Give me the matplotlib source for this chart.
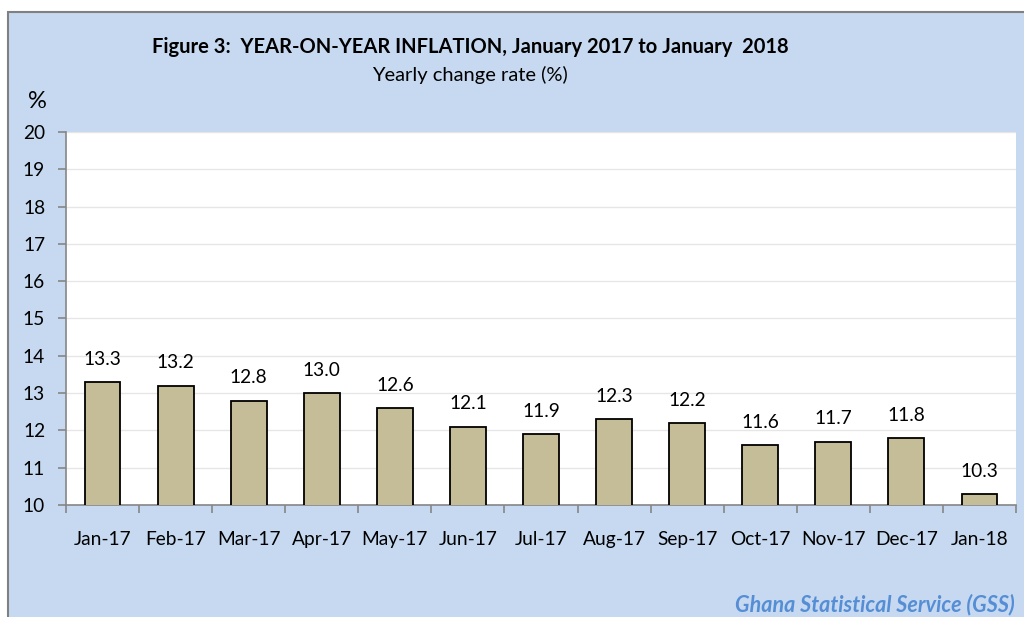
import matplotlib
matplotlib.use("Agg")
import matplotlib.pyplot as plt
from matplotlib.patches import Rectangle

months = ["Jan-17", "Feb-17", "Mar-17", "Apr-17", "May-17", "Jun-17", "Jul-17",
          "Aug-17", "Sep-17", "Oct-17", "Nov-17", "Dec-17", "Jan-18"]
inflation = [13.3, 13.2, 12.8, 13.0, 12.6, 12.1, 11.9, 12.3, 12.2, 11.6, 11.7, 11.8, 10.3]
yticks = list(range(10, 21))

plt.rcParams['font.family'] = ['Lato', 'DejaVu Sans']

bg = "#C6D9F0"
fig = plt.figure(figsize=(10.24, 6.17), dpi=100)
fig.patch.set_facecolor("white")
fig.patches.append(Rectangle((8/1024, -0.2), 1.2, 1.2 - 12/617, transform=fig.transFigure,
                             facecolor=bg, edgecolor="#808080", linewidth=1.5, zorder=-10))

ax = fig.add_axes([66/1024, 1 - 505/617, (1016-66)/1024, (505-132)/617])
ax.set_facecolor("white")
x = list(range(len(months)))
ax.bar(x, inflation, width=0.49, color="#C4BD97", edgecolor="black", linewidth=1.3, zorder=3)
for xi, v in zip(x, inflation):
    ax.text(xi, v + 0.38, f"{v:.1f}", ha="center", va="bottom", fontsize=13.8, zorder=4)

ax.set_ylim(10, 20)
ax.set_xlim(-0.5, len(months) - 0.5)
ax.set_yticks(yticks)
ax.set_yticklabels([str(t) for t in yticks], fontsize=13.8)
ax.yaxis.grid(True, color="#E6E6E6", linewidth=1, zorder=0)
ax.set_xticks(x)
ax.set_xticklabels(months, fontsize=13.8)
ax.tick_params(axis="x", length=0, pad=19)
ax.set_xticks([i - 0.5 for i in range(len(months) + 1)], minor=True)
ax.tick_params(axis="x", which="minor", length=6, color="#868686", width=1.2)
ax.tick_params(axis="y", length=6, color="#868686", width=1.2, pad=9)
for s in ["top", "right"]:
    ax.spines[s].set_visible(False)
for s in ["left", "bottom"]:
    ax.spines[s].set_color("#868686")
    ax.spines[s].set_linewidth(1.2)

fig.text(470/1024, 1 - 47/617, "Figure 3:  YEAR-ON-YEAR INFLATION, January 2017 to January  2018",
         ha="center", va="center", fontsize=14.5, fontweight="bold")
fig.text(470/1024, 1 - 75/617, "Yearly change rate (%)", ha="center", va="center", fontsize=14.5)
fig.text(37/1024, 1 - 102/617, "%", ha="center", va="center", fontsize=17)
fig.text(1015/1024, 2/617, "Ghana Statistical Service (GSS)", ha="right", va="bottom",
         fontsize=15.5, fontweight="bold", fontstyle="italic", color="#558ED5")

fig.savefig("out.png", dpi=100, facecolor=fig.get_facecolor())
